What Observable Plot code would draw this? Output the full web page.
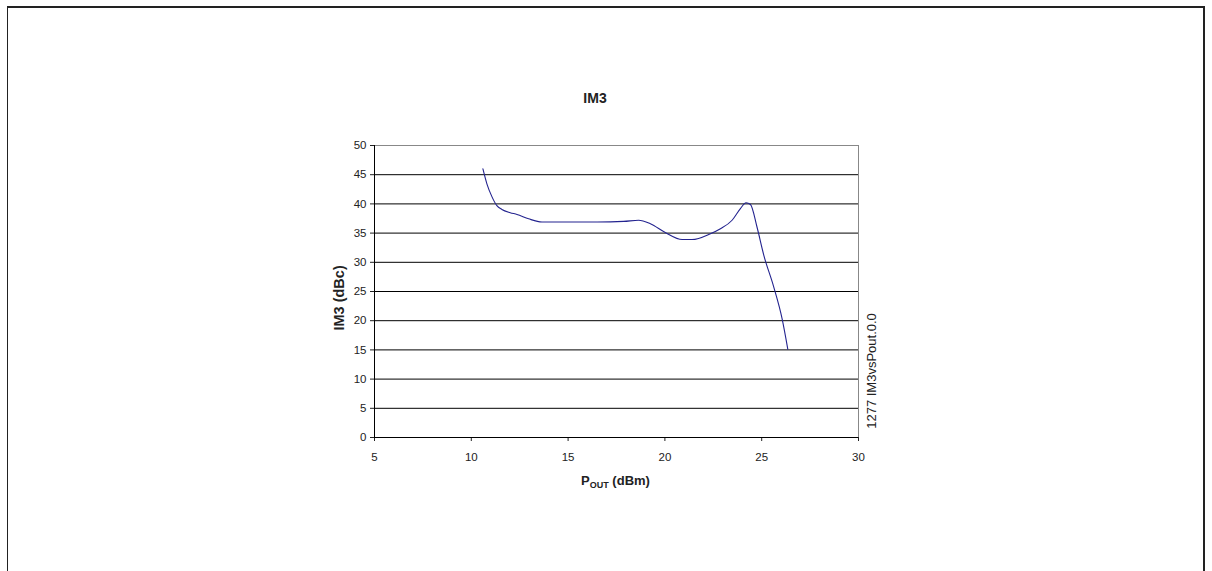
<!DOCTYPE html>
<html>
<head>
<meta charset="utf-8">
<script src="https://cdn.jsdelivr.net/npm/d3@7"></script>
<script src="https://cdn.jsdelivr.net/npm/@observablehq/plot@0.6"></script>
<style>
  html, body { margin: 0; padding: 0; background: #fff; }
  #wrap { position: relative; width: 1212px; height: 571px; overflow: hidden; font-family: "Liberation Sans", Arial, sans-serif; }
  #border { position: absolute; left: 7px; top: 6px; width: 1198px; height: 620px; border: 1px solid #222; border-right-width: 2px; border-top-width: 2px; box-sizing: border-box; pointer-events: none; }
  #chart { position: absolute; left: 0; top: 0; }
</style>
</head>
<body>
<div id="wrap"><div id="chart"></div><div id="border"></div></div>
<script>
const title = "IM3";
const xLabel = "P_OUT (dBm)";
const yLabel = "IM3 (dBc)";
const sideNote = "1277 IM3vsPout.0.0";
const xTicks = [5, 10, 15, 20, 25, 30];
const yTicks = [0, 5, 10, 15, 20, 25, 30, 35, 40, 45, 50];
const gridValues = [0, 5, 10, 15, 20, 25, 30, 35, 40, 45];

const pout = [10.60, 10.81, 11.07, 11.32, 11.58, 12.01, 12.36, 12.96, 13.65, 15.0, 16.5, 17.87, 18.64, 19.25, 20.02, 20.89, 21.40, 22.35, 22.87, 23.47, 23.90, 24.19, 24.42, 24.76, 25.11, 25.62, 26.05, 26.35];
const im3  = [46.0, 43.4, 41.2, 39.7, 39.05, 38.5, 38.2, 37.45, 36.9, 36.9, 36.9, 37.0, 37.2, 36.6, 35.1, 33.9, 33.9, 34.9, 35.75, 37.2, 39.2, 40.2, 39.9, 36.0, 31.2, 25.8, 20.4, 15.1];

const data = pout.map((p, i) => ({p, v: im3[i]}));

const chart = Plot.plot({
  width: 1212,
  height: 571,
  marginLeft: 374,
  marginRight: 354,
  marginTop: 145,
  marginBottom: 134,
  style: {fontFamily: "'Liberation Sans', Arial, sans-serif", fontSize: "11.5px", color: "#222", background: "transparent"},
  x: {domain: [5, 30], ticks: xTicks, tickSize: 4, tickPadding: 11, label: null, tickFormat: d => String(d)},
  y: {domain: [0, 50], ticks: yTicks, tickSize: 4, tickPadding: 4, label: null, tickFormat: d => String(d)},
  marks: [
    Plot.ruleY(gridValues, {stroke: "#000", strokeWidth: 1}),
    Plot.ruleY([50], {stroke: "#888", strokeWidth: 1}),
    Plot.ruleX([30], {stroke: "#888", strokeWidth: 1}),
    Plot.ruleX([5], {stroke: "#000", strokeWidth: 1}),
    Plot.line(data, {x: "p", y: "v", stroke: "#23238f", strokeWidth: 1.1, curve: "monotone-x"}),
    Plot.text([title], {frameAnchor: "top", textAnchor: "middle", lineAnchor: "bottom", dx: -21.5, dy: -42.3, fontWeight: "bold", fontSize: 14, fill: "#222"}),
    Plot.text([yLabel], {frameAnchor: "left", textAnchor: "middle", lineAnchor: "bottom", rotate: -90, dx: -31, dy: 6.4, fontWeight: "bold", fontSize: 14.5, fill: "#222"}),
    Plot.text([sideNote], {frameAnchor: "right", textAnchor: "middle", lineAnchor: "bottom", rotate: -90, dx: 17, dy: 79.5, fontSize: 13, fill: "#222"}),
    Plot.text([xLabel], {frameAnchor: "bottom", textAnchor: "middle", lineAnchor: "bottom", dx: -1, dy: 47.7, fontWeight: "bold", fontSize: 13, fill: "#222"})
  ]
});

// subscript the OUT part of the x label
d3.select(chart).selectAll("text").each(function() {
  const t = d3.select(this);
  if (t.text() === xLabel) {
    t.text(null);
    t.append("tspan").text("P");
    t.append("tspan").attr("font-size", "9px").attr("dy", "3").text("OUT");
    t.append("tspan").attr("dy", "-3").text(" (dBm)");
  }
});

document.getElementById("chart").appendChild(chart);
</script>
</body>
</html>
